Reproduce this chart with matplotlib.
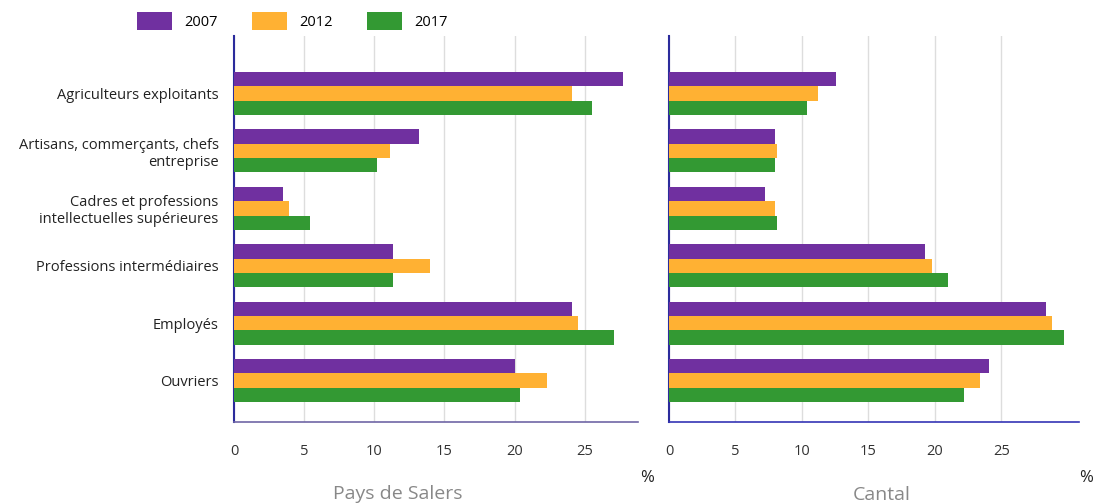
import numpy as np
import matplotlib
matplotlib.use("Agg")
import matplotlib.pyplot as plt
from matplotlib.patches import Patch

plt.rcParams['font.family'] = ['Open Sans', 'DejaVu Sans']

categories = ["Agriculteurs exploitants",
              "Artisans, commerçants, chefs\nentreprise",
              "Cadres et professions\nintellectuelles supérieures",
              "Professions intermédiaires",
              "Employés",
              "Ouvriers"]
years = ["2007", "2012", "2017"]

# Pays de Salers
salers_2007 = [27.7, 13.2, 3.5, 11.3, 24.1, 20.0]
salers_2012 = [24.1, 11.1, 3.9, 14.0, 24.5, 22.3]
salers_2017 = [25.5, 10.2, 5.4, 11.3, 27.1, 20.4]

# Cantal
cantal_2007 = [12.6, 8.0, 7.2, 19.3, 28.4, 24.1]
cantal_2012 = [11.2, 8.1, 7.95, 19.8, 28.8, 23.4]
cantal_2017 = [10.4, 8.0, 8.1, 21.0, 29.7, 22.2]

colors = ["#7030A0", "#FFB133", "#339933"]

fig = plt.figure(figsize=(10.94, 5.04), dpi=100)
ax1 = fig.add_axes([234/1094, 82/504, 404/1094, 386/504])
ax2 = fig.add_axes([669/1094, 82/504, 410/1094, 386/504])

y = np.arange(len(categories))
h = 0.25


def draw_panel(ax, series, xmax, bottom_color):
    for i, vals in enumerate(series):
        ax.barh(y + (i - 1) * h, vals, height=h, color=colors[i], zorder=3)
    ax.set_xlim(0, xmax)
    ax.set_ylim(5.72, -1.0)
    ax.set_xticks([0, 5, 10, 15, 20, 25])
    ax.grid(axis='x', color='#dddddd', lw=1, zorder=0)
    for s in ['top', 'right']:
        ax.spines[s].set_visible(False)
    ax.spines['left'].set_color('#2b2b9c')
    ax.spines['left'].set_linewidth(1.5)
    ax.spines['bottom'].set_color(bottom_color)
    ax.spines['bottom'].set_linewidth(1.2)
    ax.tick_params(axis='both', length=0, labelsize=10.5, labelcolor='#333333')
    ax.tick_params(axis='x', pad=16)


draw_panel(ax1, [salers_2007, salers_2012, salers_2017], 28.8, '#6f66a6')
draw_panel(ax2, [cantal_2007, cantal_2012, cantal_2017], 30.85, '#3535b5')

ax1.set_yticks(y)
ax1.set_yticklabels(categories, fontsize=10.5, color='#222222', linespacing=1.15)
ax1.tick_params(axis='y', pad=11)
ax2.set_yticks([])

fig.text(647/1094, 1 - 478/504, "%", ha='center', va='center', fontsize=12, color='#222222')
fig.text(1086/1094, 1 - 478/504, "%", ha='center', va='center', fontsize=12, color='#222222')
fig.text(398/1094, 1 - 494/504, "Pays de Salers", ha='center', va='center', fontsize=14, color='#888888')
fig.text(882/1094, 1 - 495/504, "Cantal", ha='center', va='center', fontsize=14, color='#888888')

handles = [Patch(facecolor=c, edgecolor='none') for c in colors]
fig.legend(handles, years, loc='center left', bbox_to_anchor=(124/1094, 1 - 21/504),
           ncol=3, frameon=False, fontsize=10.5, handlelength=2.4, handleheight=1.5,
           columnspacing=2.4, handletextpad=0.8)

fig.savefig("out.png", dpi=100)
